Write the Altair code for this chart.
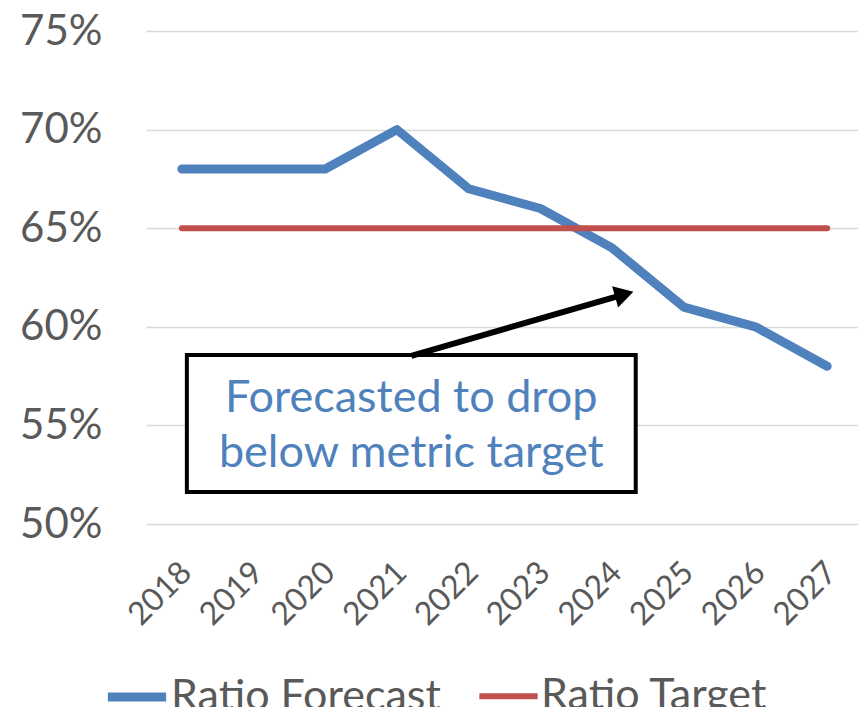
import altair as alt
import pandas as pd

years = [2018, 2019, 2020, 2021, 2022, 2023, 2024, 2025, 2026, 2027]
forecast = [0.68, 0.68, 0.68, 0.70, 0.67, 0.66, 0.64, 0.61, 0.60, 0.58]
target = [0.65, 0.65, 0.65, 0.65, 0.65, 0.65, 0.65, 0.65, 0.65, 0.65]
series_names = ["Ratio Forecast", "Ratio Target"]
series_colors = ["#4F81BD", "#C0504D"]
series_widths = [9, 6]
y_ticks = [0.50, 0.55, 0.60, 0.65, 0.70, 0.75]

note_text = "Forecasted to drop\nbelow metric target"
box_x = [2018.07, 2024.33]
box_y = [0.5162, 0.5857]
note_pos = [2021.2, 0.5637]
arrow_x = [2021.2, 2024.17]
arrow_y = [0.5852, 0.6165]

FONT = "Lato"
GRAY = "#595959"

lines_df = pd.DataFrame({
    "year": years + years,
    "value": forecast + target,
    "series": [series_names[0]] * len(years) + [series_names[1]] * len(years),
})

xscale = alt.Scale(domain=[2017.5, 2027.43], nice=False, zero=False)
yscale = alt.Scale(domain=[0.50, 0.75], nice=False, zero=False)

lines = alt.Chart(lines_df).mark_line(strokeCap="round", strokeJoin="round").encode(
    x=alt.X("year:Q", scale=xscale, axis=alt.Axis(
        values=years, format="d", labelAngle=-45, labelAlign="right", labelBaseline="middle",
        labelOverlap=False, grid=False, domain=False, ticks=False, labelPadding=43,
        labelOffset=4, labelFontSize=32, labelColor=GRAY, labelFont=FONT, title=None)),
    y=alt.Y("value:Q", scale=yscale, axis=alt.Axis(
        values=y_ticks, format=".0%", grid=True, gridColor="#D9D9D9", gridWidth=1.5,
        domain=False, ticks=False, labelPadding=44, labelFontSize=42, labelColor=GRAY,
        labelFont=FONT, title=None)),
    color=alt.Color("series:N", scale=alt.Scale(domain=series_names, range=series_colors),
                    legend=alt.Legend(
                        orient="none", legendX=-43, legendY=632, direction="horizontal",
                        title=None, symbolType="stroke", symbolSize=3400, symbolStrokeWidth=9,
                        labelFontSize=43, labelFont=FONT, labelColor=GRAY, labelOffset=0,
                        labelLimit=0, columnPadding=26, symbolOffset=0)),
    strokeWidth=alt.StrokeWidth("series:N", scale=alt.Scale(domain=series_names, range=series_widths),
                                legend=None),
)

box_df = pd.DataFrame({"x": [box_x[0]], "x2": [box_x[1]], "y": [box_y[0]], "y2": [box_y[1]]})
box = alt.Chart(box_df).mark_rect(fill="white", stroke="black", strokeWidth=4).encode(
    x="x:Q", x2="x2:Q", y="y:Q", y2="y2:Q")

note_df = pd.DataFrame({"x": [note_pos[0]], "y": [note_pos[1]], "t": [note_text]})
note = alt.Chart(note_df).mark_text(
    font=FONT, fontSize=45, color="#4F81BD", lineBreak="\n", lineHeight=55,
    align="center", baseline="middle").encode(x="x:Q", y="y:Q", text="t:N")

arrow_df = pd.DataFrame({"x": arrow_x, "y": arrow_y})
shaft = alt.Chart(arrow_df).mark_line(color="black", strokeWidth=6).encode(x="x:Q", y="y:Q")
head_df = pd.DataFrame({"x": [arrow_x[1]], "y": [arrow_y[1]]})
head = alt.Chart(head_df).mark_point(
    shape="triangle-right", angle=344, size=480, filled=True, color="black", opacity=1
).encode(x="x:Q", y="y:Q")

chart = alt.layer(lines, box, note, shaft, head).properties(
    width=712, height=493,
    background="white",
    autosize=alt.AutoSizeParams(type="none"),
    padding={"left": 138, "top": 23, "right": 0, "bottom": 183},
).configure_view(stroke=None)

chart.save("out.html", embed_options={"renderer": "svg", "actions": False})
